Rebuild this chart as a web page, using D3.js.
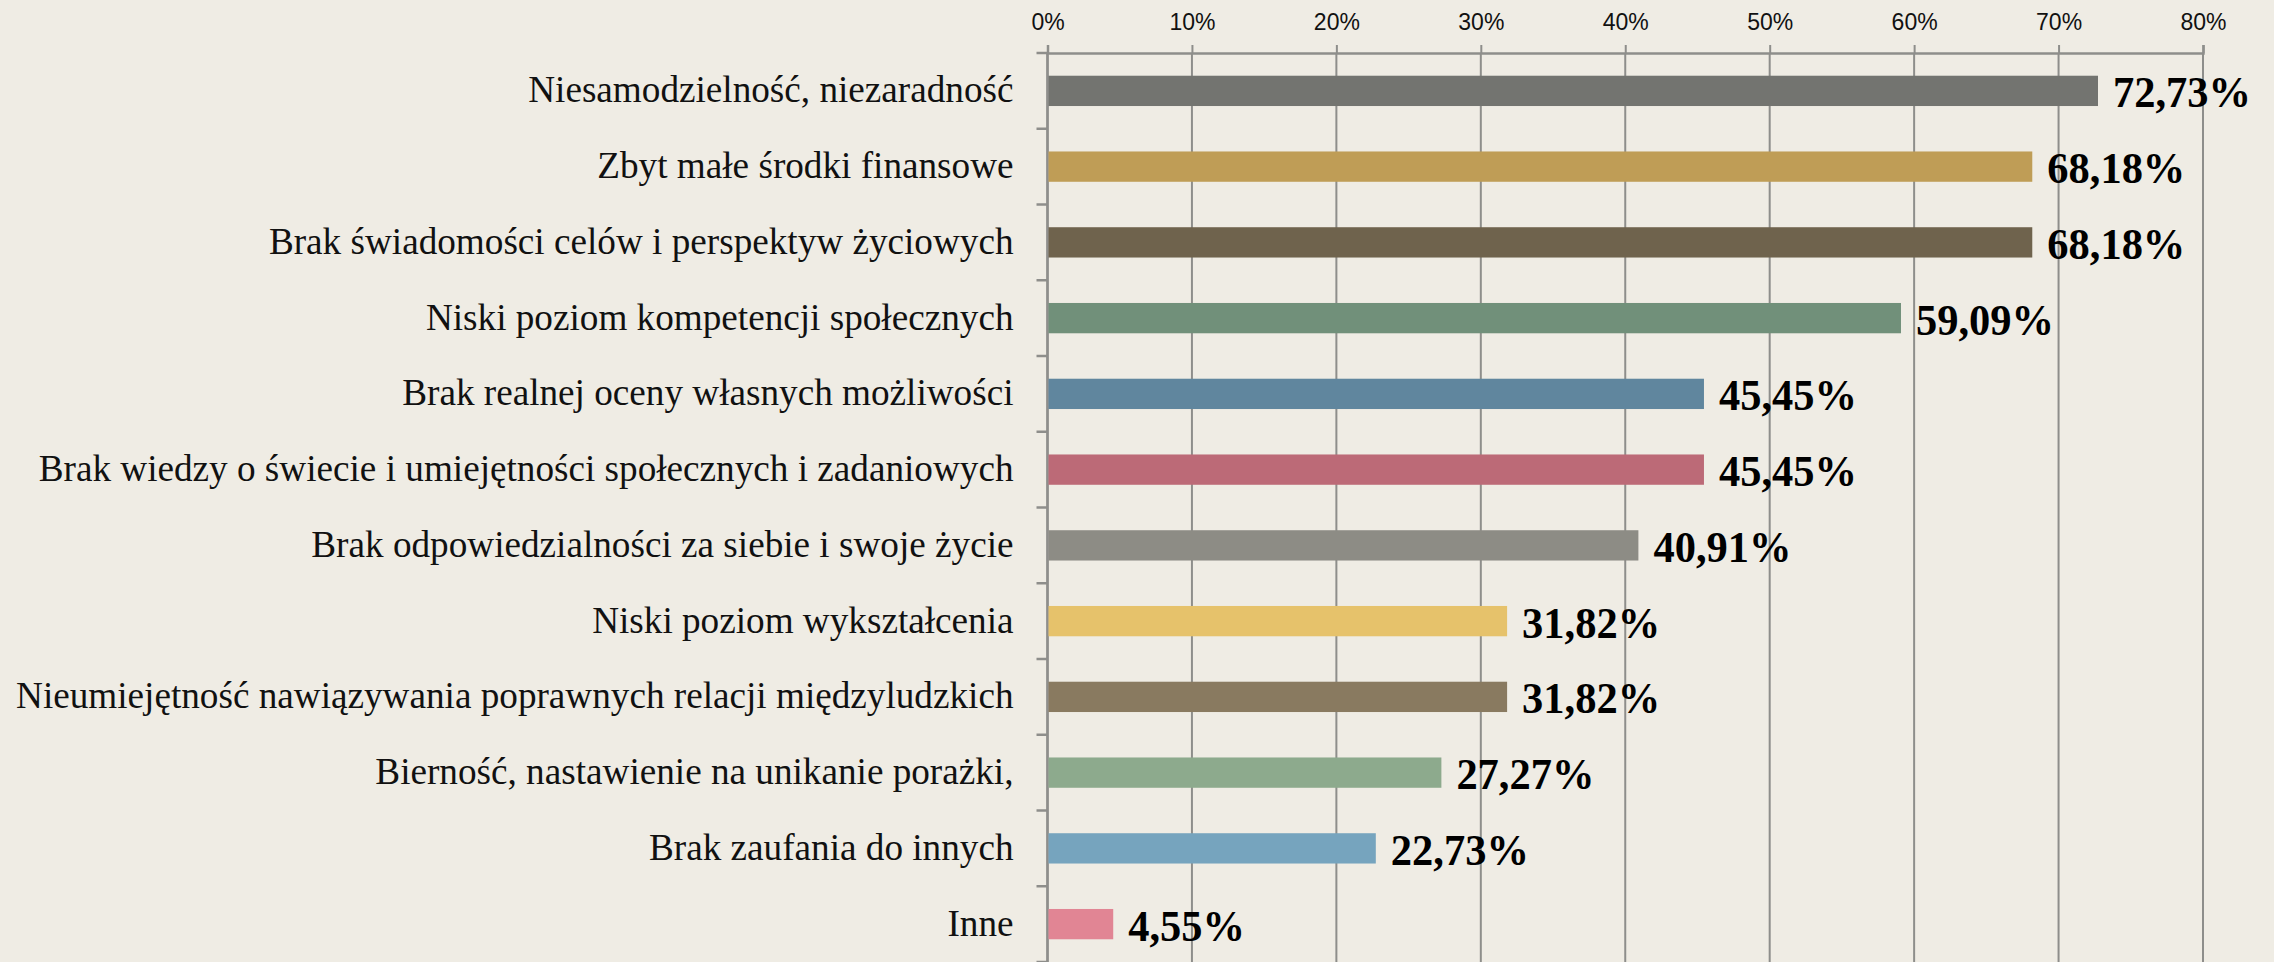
<!DOCTYPE html>
<html>
<head>
<meta charset="utf-8">
<script src="https://cdn.jsdelivr.net/npm/d3@7"></script>
<style>
    body { margin: 0; background: #efece4; }
    svg { display: block; }
</style>
</head>
<body>
<div id="chart"></div>
<script>
// chart data
var categories = [
    "Niesamodzielność, niezaradność",
    "Zbyt małe środki finansowe",
    "Brak świadomości celów i perspektyw życiowych",
    "Niski poziom kompetencji społecznych",
    "Brak realnej oceny własnych możliwości",
    "Brak wiedzy o świecie i umiejętności społecznych i zadaniowych",
    "Brak odpowiedzialności za siebie i swoje życie",
    "Niski poziom wykształcenia",
    "Nieumiejętność nawiązywania poprawnych relacji międzyludzkich",
    "Bierność, nastawienie na unikanie porażki,",
    "Brak zaufania do innych",
    "Inne"
];
var values = [72.73, 68.18, 68.18, 59.09, 45.45, 45.45, 40.91, 31.82, 31.82, 27.27, 22.73, 4.55];
var barColors = ["#737470", "#bf9d56", "#6f634d", "#71907a", "#60869e", "#bc6a77",
                 "#8d8c85", "#e6c26b", "#897a60", "#8daa8d", "#76a4be", "#e18594"];
var tickValues = [0, 10, 20, 30, 40, 50, 60, 70, 80];

var width = 2274, height = 962;
var margin = {top: 53, right: 71, bottom: 0, left: 1047.5};
var innerW = width - margin.left - margin.right;
var innerH = height - margin.top - margin.bottom;
var gridColor = "#8e8e8b";

var data = categories.map(function(c, i) {
    return {name: c, value: values[i], color: barColors[i]};
});

var svg = d3.select("#chart")
    .append("svg")
    .attr("width", width)
    .attr("height", height);

svg.append("rect")
    .attr("width", width)
    .attr("height", height)
    .attr("fill", "#efece4");

var g = svg.append("g")
    .attr("transform", "translate(" + margin.left + "," + margin.top + ")");

var x = d3.scaleLinear().domain([0, 80]).range([0, innerW]);
var y = d3.scaleBand().domain(categories).range([0, innerH]).paddingInner(0.6).paddingOuter(0.3);

// gridlines
g.selectAll(".grid")
    .data(tickValues)
    .enter().append("line")
    .attr("class", "grid")
    .attr("x1", d => x(d))
    .attr("x2", d => x(d))
    .attr("y1", 0)
    .attr("y2", innerH)
    .attr("stroke", gridColor)
    .attr("stroke-width", 2);

// top axis
var xAxis = g.append("g")
    .call(d3.axisTop(x).tickValues(tickValues).tickSize(8).tickPadding(15).tickFormat(d => d + "%"));
xAxis.select(".domain").attr("stroke", gridColor).attr("stroke-width", 2.5);
xAxis.selectAll(".tick line").attr("stroke", gridColor).attr("stroke-width", 2);
xAxis.selectAll(".tick text")
    .attr("fill", "#111")
    .style("font-family", "'Liberation Sans Narrow', 'Liberation Sans', Arial, sans-serif")
    .style("font-size", "23px");

// left axis line and category boundary ticks
g.append("line")
    .attr("x1", 0).attr("x2", 0)
    .attr("y1", 0).attr("y2", innerH)
    .attr("stroke", gridColor)
    .attr("stroke-width", 2.5);

var step = y.step();
g.selectAll(".ytick")
    .data(d3.range(categories.length + 1))
    .enter().append("line")
    .attr("class", "ytick")
    .attr("x1", -11).attr("x2", 0)
    .attr("y1", d => y(categories[0]) - step * 0.3 + d * step)
    .attr("y2", d => y(categories[0]) - step * 0.3 + d * step)
    .attr("stroke", gridColor)
    .attr("stroke-width", 2.5);

// category labels
g.selectAll(".cat")
    .data(data)
    .enter().append("text")
    .attr("class", "cat")
    .attr("transform", d => "translate(-34," + (y(d.name) + y.bandwidth() / 2 + 11.5) + ") scale(1,1.04)")
    .attr("text-anchor", "end")
    .style("font-family", "'Liberation Serif', 'Times New Roman', serif")
    .style("font-size", "37.2px")
    .attr("fill", "#111")
    .text(d => d.name);

// bars
g.selectAll(".bar")
    .data(data)
    .enter().append("rect")
    .attr("class", "bar")
    .attr("x", 1)
    .attr("y", d => y(d.name))
    .attr("width", d => x(d.value) - 1)
    .attr("height", y.bandwidth())
    .attr("fill", d => d.color);

// value labels
var fmt = d3.formatLocale({decimal: ",", thousands: " ", grouping: [3], currency: ["", ""]}).format(".2f");
g.selectAll(".val")
    .data(data)
    .enter().append("text")
    .attr("class", "val")
    .attr("transform", d => "translate(" + (x(d.value) + 15) + "," + (y(d.name) + y.bandwidth() / 2 + 16.5) + ") scale(1,1.045)")
    .style("font-family", "'Liberation Serif', 'Times New Roman', serif")
    .style("font-size", "42.5px")
    .style("font-weight", "bold")
    .attr("fill", "#000")
    .text(d => fmt(d.value) + "%");
</script>
</body>
</html>
